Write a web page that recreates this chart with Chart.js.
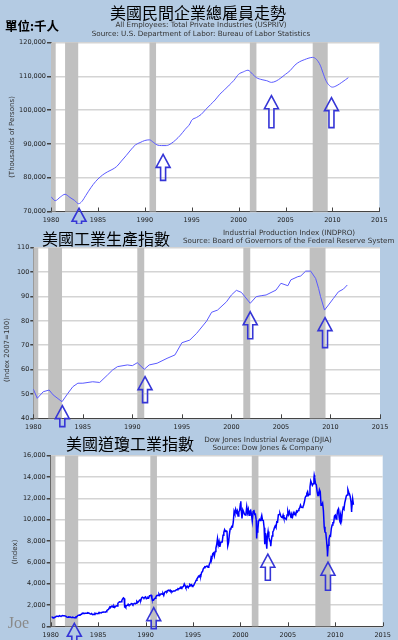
<!DOCTYPE html>
<html>
<head>
<meta charset="utf-8">
<script src="https://cdn.jsdelivr.net/npm/chart.js@4.4.0/dist/chart.umd.min.js"></script>
<style>
  html, body { margin: 0; padding: 0; }
  body { width: 398px; height: 640px; background: #b4cbe3; position: relative; overflow: hidden; font-family: "DejaVu Sans", sans-serif; }
  canvas { position: absolute; left: 0; }
  .t { position: absolute; transform: translate(-50%, -50%); white-space: nowrap; line-height: 1; }
  .cn { font-family: "Noto Sans CJK TC", sans-serif; font-size: 16px; color: #000; }
  .sub { font-size: 7.2px; color: #333; }
  .yt { position: absolute; transform: translate(-50%, -50%) rotate(-90deg); white-space: nowrap; font-size: 7px; color: #333; line-height: 1; }
</style>
</head>
<body>
<canvas id="c-emp" width="398" height="224" style="top:0"></canvas>
<canvas id="c-ip" width="398" height="208" style="top:224px"></canvas>
<canvas id="c-dj" width="398" height="208" style="top:432px"></canvas>

<div class="t cn" style="left:198px; top:12px">美國民間企業總雇員走勢</div>
<div class="t" style="left:32px; top:26px; font-family:'Noto Sans CJK TC'; font-size:12.5px; font-weight:700">單位:千人</div>
<div class="t sub" style="left:201px; top:25px">All Employees: Total Private Industries (USPRIV)</div>
<div class="t sub" style="left:201px; top:33.7px">Source: U.S. Department of Labor: Bureau of Labor Statistics</div>
<div class="yt" style="left:12.3px; top:137px">(Thousands of Persons)</div>

<div class="t cn" style="left:106px; top:238.3px">美國工業生產指數</div>
<div class="t sub" style="left:289px; top:232.5px">Industrial Production Index (INDPRO)</div>
<div class="t sub" style="left:288.8px; top:240.7px">Source: Board of Governors of the Federal Reserve System</div>
<div class="yt" style="left:6.7px; top:350px">(Index 2007=100)</div>

<div class="t cn" style="left:130px; top:443.3px">美國道瓊工業指數</div>
<div class="t sub" style="left:268px; top:440px">Dow Jones Industrial Average (DJIA)</div>
<div class="t sub" style="left:268px; top:448.3px">Source: Dow Jones &amp; Company</div>
<div class="yt" style="left:15.3px; top:551.7px">(Index)</div>
<div class="t" style="left:18.5px; top:623px; font-family:'Liberation Serif'; font-size:16px; color:#8a8a8a">Joe</div>

<script>
// 경기침체 구간 (연도)
const recessionStart = [1980.0, 1981.5, 1990.5, 2001.2, 2007.9];
const recessionEnd = [1980.5, 1982.9, 1991.2, 2001.9, 2009.5];

// 1) 민간 고용 (USPRIV, 천명)
const empYears = [1980.0, 1980.45, 1981.0, 1981.5, 1982.0, 1982.5, 1982.95, 1983.3, 1983.7, 1984.0,
  1984.5, 1985.0, 1985.5, 1986.0, 1986.5, 1987.0, 1987.5, 1988.0, 1988.5, 1989.0,
  1989.5, 1990.0, 1990.5, 1990.9, 1991.3, 1991.8, 1992.3, 1992.8, 1993.3, 1993.8,
  1994.3, 1994.8, 1995.0, 1995.5, 1996.0, 1996.5, 1997.0, 1997.5, 1998.0, 1998.5,
  1999.0, 1999.5, 2000.0, 2000.5, 2001.0, 2001.5, 2001.9, 2002.5, 2003.0, 2003.5,
  2004.0, 2004.5, 2005.0, 2005.5, 2006.0, 2006.5, 2007.0, 2007.5, 2007.9, 2008.3,
  2008.7, 2009.0, 2009.3, 2009.6, 2010.0, 2010.5, 2011.0, 2011.4, 2011.7];
const empValues = [74400, 73200, 74300, 75100, 74200, 73300, 72300, 73000, 74700, 76000,
  78000, 79600, 80800, 81700, 82400, 83300, 84900, 86500, 88200, 89700,
  90400, 91000, 91200, 90500, 89700, 89500, 89500, 90100, 91200, 92600,
  94300, 95900, 97000, 97800, 98700, 100200, 101600, 103000, 104700, 106000,
  107400, 108800, 110600, 111300, 111800, 110600, 109600, 109000, 108700, 108200,
  108600, 109500, 110600, 111700, 113300, 114300, 114900, 115400, 115600, 115000,
  113300, 111000, 108800, 107500, 106800, 107300, 108200, 109000, 109600];

// 2) 산업생산지수 (INDPRO, 2007=100)
const ipYears = [1980.0, 1980.4, 1981.0, 1981.6, 1982.0, 1982.9, 1983.5, 1984.0, 1984.5, 1985.0,
  1986.0, 1986.7, 1987.5, 1988.0, 1988.5, 1989.5, 1990.0, 1990.5, 1991.2, 1991.7,
  1992.5, 1993.5, 1994.3, 1995.0, 1995.8, 1996.5, 1997.5, 1998.0, 1998.6, 1999.5,
  2000.0, 2000.5, 2001.0, 2001.9, 2002.5, 2003.0, 2003.5, 2004.5, 2005.0, 2005.7,
  2006.0, 2006.7, 2007.0, 2007.5, 2008.0, 2008.5, 2008.8, 2009.0, 2009.4, 2009.8,
  2010.3, 2010.8, 2011.3, 2011.7];
const ipValues = [52.0, 48.2, 50.9, 51.6, 49.6, 46.8, 50.3, 53.0, 54.4, 54.4,
  55.0, 54.7, 57.8, 59.8, 61.2, 61.9, 61.6, 62.8, 60.1, 61.9,
  62.6, 64.6, 66.0, 71.0, 72.1, 74.9, 79.9, 83.5, 84.4, 87.8,
  90.6, 92.5, 91.7, 87.2, 89.9, 90.3, 90.6, 92.6, 95.4, 94.4,
  96.8, 98.1, 98.4, 100.4, 100.4, 97.4, 93.3, 89.9, 84.4, 86.5,
  89.2, 91.9, 93.0, 94.7];

// 3) 다우존스 (월말 종가, 1980.01 ~ 2011.11)
const djStartYear = 1980;
const djMonthly = [
  876, 863, 786, 817, 851, 868, 935, 933, 932, 925, 993, 964,
  947, 975, 1004, 998, 992, 977, 953, 882, 850, 853, 889, 875,
  871, 824, 823, 848, 820, 812, 809, 901, 896, 992, 1039, 1047,
  1076, 1113, 1130, 1226, 1200, 1222, 1199, 1216, 1233, 1225, 1276, 1259,
  1221, 1155, 1165, 1171, 1105, 1132, 1115, 1224, 1207, 1207, 1189, 1212,
  1287, 1284, 1267, 1258, 1315, 1336, 1348, 1334, 1329, 1375, 1472, 1547,
  1571, 1709, 1819, 1784, 1877, 1893, 1775, 1898, 1768, 1878, 1914, 1896,
  2158, 2224, 2305, 2286, 2292, 2419, 2572, 2663, 2596, 1994, 1834, 1939,
  1958, 2072, 1988, 2032, 2031, 2142, 2129, 2032, 2113, 2149, 2114, 2169,
  2342, 2258, 2294, 2419, 2480, 2440, 2661, 2737, 2693, 2645, 2706, 2753,
  2591, 2627, 2707, 2657, 2877, 2881, 2905, 2615, 2453, 2442, 2560, 2634,
  2736, 2882, 2914, 2888, 3028, 2907, 3025, 3044, 3017, 3069, 2895, 3169,
  3224, 3268, 3236, 3359, 3397, 3319, 3394, 3257, 3272, 3226, 3305, 3301,
  3310, 3371, 3435, 3428, 3527, 3516, 3540, 3651, 3555, 3681, 3684, 3754,
  3978, 3832, 3636, 3682, 3758, 3625, 3765, 3913, 3843, 3908, 3739, 3834,
  3844, 4011, 4158, 4321, 4465, 4556, 4708, 4647, 4789, 4756, 5075, 5117,
  5395, 5486, 5587, 5569, 5643, 5655, 5529, 5616, 5882, 6029, 6522, 6448,
  6813, 6878, 6584, 7009, 7331, 7673, 8223, 7622, 7945, 7442, 7823, 7908,
  7907, 8546, 8800, 9063, 8900, 8952, 8883, 7539, 7843, 8592, 9117, 9181,
  9359, 9307, 9786, 10789, 10560, 10971, 10655, 10829, 10337, 10730, 10878, 11497,
  10941, 10128, 10922, 10734, 10522, 10448, 10522, 11215, 10651, 10971, 10415, 10788,
  10887, 10495, 9879, 10735, 10912, 10502, 10523, 9950, 8848, 9075, 9852, 10022,
  9920, 10106, 10404, 9946, 9925, 9243, 8737, 8664, 7592, 8397, 8896, 8342,
  8054, 7891, 7992, 8480, 8850, 8985, 9234, 9416, 9275, 9801, 9782, 10454,
  10488, 10584, 10358, 10226, 10188, 10435, 10140, 10174, 10080, 10027, 10428, 10783,
  10490, 10766, 10504, 10193, 10467, 10275, 10641, 10482, 10569, 10440, 10806, 10718,
  10865, 10993, 11109, 11367, 11168, 11150, 11186, 11381, 11679, 12081, 12222, 12463,
  12622, 12269, 12354, 13063, 13628, 13409, 13212, 13358, 13896, 13930, 13372, 13265,
  12650, 12266, 12263, 12820, 12638, 11350, 11378, 11544, 10851, 9325, 8829, 8776,
  8001, 7063, 7609, 8168, 8500, 8447, 9172, 9496, 9712, 9713, 10345, 10428,
  10067, 10325, 10857, 11009, 10137, 9774, 10466, 10015, 10788, 11118, 11006, 11578,
  11892, 12226, 12320, 12811, 12570, 12414, 12143, 11614, 10913, 11955, 11400];
// 월중 급등락 (일중 고/저점)
const djSpikeYears = [1987.80, 2000.04, 2001.71, 2002.55, 2002.78, 2003.20, 2007.78, 2009.18, 2010.52, 2011.33, 2011.70];
const djSpikeValues = [1739, 11723, 8236, 7702, 7286, 7524, 14164, 6547, 9686, 12810, 10720];

// 화살표 (끝점: 연도, 값)
const empArrowYears = [1982.99, 1991.95, 2003.5, 2009.9];
const empArrowTips = [70950, 86900, 104250, 103700];
const ipArrowYears = [1982.93, 1991.28, 2001.9, 2009.45];
const ipArrowTips = [45.2, 57.1, 83.7, 81.3];
const djArrowYears = [1982.49, 1990.86, 2002.89, 2009.23];
const djArrowTips = [280, 1750, 6760, 6010];

const TICK_FONT = { family: "DejaVu Sans", size: 6.5 };

function toPoints(xs, ys) {
  return xs.map((x, i) => ({ x, y: ys[i] }));
}

function djPoints() {
  const pts = djMonthly.map((v, i) => ({ x: djStartYear + (i + 1) / 12, y: v }));
  djSpikeYears.forEach((x, i) => pts.push({ x, y: djSpikeValues[i] }));
  return pts.sort((a, b) => a.x - b.x);
}

// 흰 배경 + 경기침체 음영 + 내부 눈금
const backdropPlugin = {
  id: "backdrop",
  beforeDraw(chart) {
    const { ctx, chartArea: a } = chart;
    ctx.save();
    ctx.fillStyle = "#ffffff";
    ctx.fillRect(a.left, a.top, a.right - a.left, a.bottom - a.top);
    ctx.restore();
  },
  beforeDatasetsDraw(chart) {
    const { ctx, chartArea: a, scales: { x } } = chart;
    ctx.save();
    ctx.fillStyle = "#c0c0c0";
    recessionStart.forEach((s, i) => {
      const x0 = x.getPixelForValue(s);
      const x1 = x.getPixelForValue(recessionEnd[i]);
      ctx.fillRect(x0, a.top, x1 - x0, a.bottom - a.top);
    });
    ctx.strokeStyle = "#444";
    ctx.lineWidth = 1;
    x.ticks.forEach((t) => {
      const px = Math.round(x.getPixelForValue(t.value)) + 0.5;
      ctx.beginPath();
      ctx.moveTo(px, a.bottom);
      ctx.lineTo(px, a.bottom - 4);
      ctx.stroke();
    });
    ctx.restore();
  },
};

function arrowPlugin(years, tips, lens) {
  return {
    id: "arrows",
    afterDraw(chart) {
      const { ctx, scales: { x, y } } = chart;
      const hw = 7, hh = 13, sw = 2.5;
      ctx.save();
      ctx.strokeStyle = "#3535d6";
      ctx.lineWidth = 1.6;
      ctx.lineJoin = "miter";
      years.forEach((yr, i) => {
        const px = x.getPixelForValue(yr);
        const py = y.getPixelForValue(tips[i]);
        const len = lens[i];
        ctx.beginPath();
        ctx.moveTo(px, py);
        ctx.lineTo(px + hw, py + hh);
        ctx.lineTo(px + sw, py + hh);
        ctx.lineTo(px + sw, py + len);
        ctx.lineTo(px - sw, py + len);
        ctx.lineTo(px - sw, py + hh);
        ctx.lineTo(px - hw, py + hh);
        ctx.closePath();
        ctx.stroke();
      });
      ctx.restore();
    },
  };
}

function makeChart(id, cfg) {
  const ctx = document.getElementById(id).getContext("2d");
  return new Chart(ctx, {
    type: "line",
    data: {
      datasets: [
        {
          data: cfg.points,
          borderColor: cfg.color,
          borderWidth: cfg.width,
          pointRadius: 0,
          fill: false,
          cubicInterpolationMode: cfg.smooth ? "monotone" : "default",
          tension: 0,
        },
      ],
    },
    options: {
      responsive: false,
      animation: false,
      events: [],
      layout: { padding: { top: cfg.padTop, right: cfg.padRight, left: 0, bottom: 0 } },
      plugins: { legend: { display: false }, tooltip: { enabled: false }, title: { display: false } },
      scales: {
        x: {
          type: "linear",
          min: 1980,
          max: 2015,
          afterFit: (s) => { s.height = cfg.xHeight; },
          ticks: {
            stepSize: 5,
            autoSkip: false,
            maxRotation: 0,
            padding: cfg.xPad,
            color: "#222",
            font: TICK_FONT,
            callback: (v) => String(v),
          },
          grid: { drawOnChartArea: false, drawTicks: false },
          border: { color: "#444", width: 1 },
        },
        y: {
          min: cfg.yMin,
          max: cfg.yMax,
          afterFit: (s) => { s.width = cfg.yWidth; },
          ticks: {
            stepSize: cfg.yStep,
            padding: 1,
            color: "#222",
            font: TICK_FONT,
            callback: (v) => v.toLocaleString("en-US"),
          },
          grid: { color: "#d4d4d4", lineWidth: 1.5, tickColor: "#444", tickLength: cfg.yTick, drawTicks: true },
          border: { color: "#444", width: 1 },
        },
      },
    },
    plugins: [backdropPlugin, arrowPlugin(cfg.arrowYears, cfg.arrowTips, cfg.arrowLens)],
  });
}

makeChart("c-emp", {
  points: toPoints(empYears, empValues),
  color: "#5a5aff", width: 1, smooth: true,
  padTop: 42.5, padRight: 18.7, xHeight: 12.5, xPad: 4.6, yWidth: 51, yTick: 4,
  yMin: 70000, yMax: 120000, yStep: 10000,
  arrowYears: empArrowYears, arrowTips: empArrowTips, arrowLens: [16, 26, 32, 30],
});

makeChart("c-ip", {
  points: toPoints(ipYears, ipValues),
  color: "#5a5aff", width: 1, smooth: false,
  padTop: 23.7, padRight: 18, xHeight: 13.7, xPad: 5.1, yWidth: 33.3, yTick: 3,
  yMin: 40, yMax: 110, yStep: 10,
  arrowYears: ipArrowYears, arrowTips: ipArrowTips, arrowLens: [21, 26, 27, 30],
});

makeChart("c-dj", {
  points: djPoints(),
  color: "#0000ff", width: 1.5, smooth: false,
  padTop: 23.7, padRight: 15.3, xHeight: 13.7, xPad: 5.5, yWidth: 50.7, yTick: 4,
  yMin: 0, yMax: 16000, yStep: 2000,
  arrowYears: djArrowYears, arrowTips: djArrowTips, arrowLens: [20, 21, 26, 28],
});
</script>
</body>
</html>
